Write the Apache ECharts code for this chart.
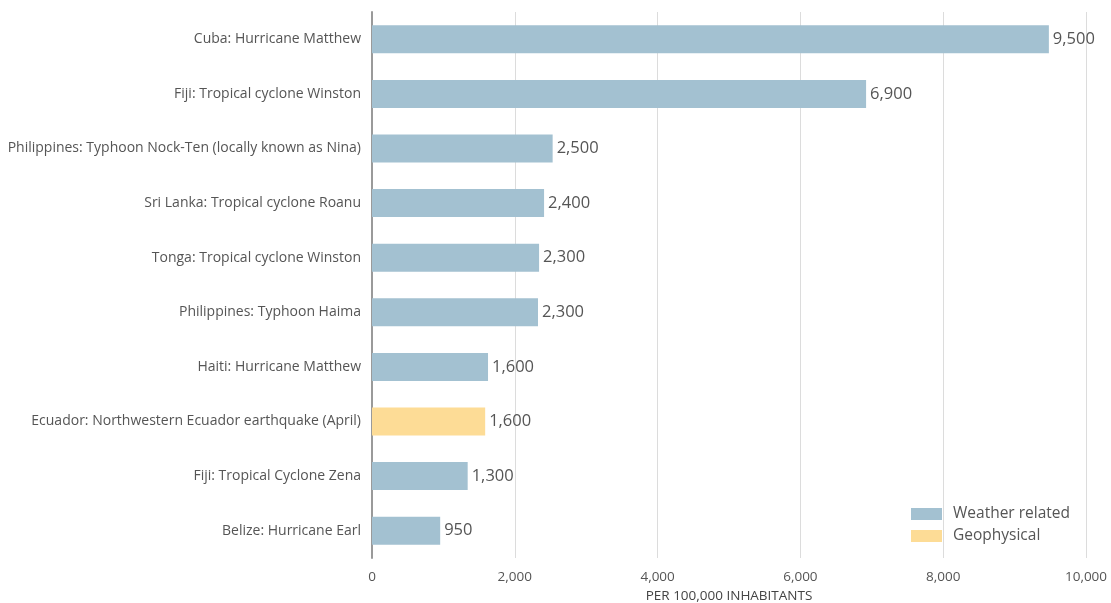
<!DOCTYPE html>
<html><head><meta charset="utf-8">
<script src="https://cdn.jsdelivr.net/npm/echarts@6/dist/echarts.min.js"></script>
<style>html,body{margin:0;padding:0;background:#fff}#c{width:1111px;height:603px}</style>
</head><body><div id="c"></div>
<script>
const categories = [
  "Cuba: Hurricane Matthew",
  "Fiji: Tropical cyclone Winston",
  "Philippines: Typhoon Nock-Ten (locally known as Nina)",
  "Sri Lanka: Tropical cyclone Roanu",
  "Tonga: Tropical cyclone Winston",
  "Philippines: Typhoon Haima",
  "Haiti: Hurricane Matthew",
  "Ecuador: Northwestern Ecuador earthquake (April)",
  "Fiji: Tropical Cyclone Zena",
  "Belize: Hurricane Earl"
];
const weatherRelated = [9480, 6920, 2530, 2410, 2340, 2325, 1625, null, 1340, 955];
const geophysical = [null, null, null, null, null, null, null, 1585, null, null];
const valueLabels = ["9,500", "6,900", "2,500", "2,400", "2,300", "2,300", "1,600", "1,600", "1,300", "950"];
const xTicks = [0, 2000, 4000, 6000, 8000, 10000];

const chart = echarts.init(document.getElementById('c'));
const font = "'Open Sans', 'Noto Sans', sans-serif";
const lbl = {
  show: true, position: 'right', distance: 4, color: '#555', fontSize: 16.5, fontFamily: font,
  formatter: p => valueLabels[p.dataIndex]
};
chart.setOption({
  animation: false,
  grid: { left: 372, right: 25, top: 12, bottom: 45, containLabel: false, outerBoundsMode: 'none' },
  legend: {
    orient: 'vertical', left: 906, top: 501, itemWidth: 31, itemHeight: 12, itemGap: 6,
    icon: 'rect',
    textStyle: { color: '#555', fontSize: 15.5, fontFamily: font, padding: [0, 0, 0, 6] },
    data: ['Weather related', 'Geophysical']
  },
  xAxis: {
    type: 'value', min: xTicks[0], max: xTicks[xTicks.length - 1], interval: 2000,
    name: 'PER 100,000 INHABITANTS', nameLocation: 'middle', nameGap: 30,
    nameTextStyle: { color: '#444', fontSize: 13.5, fontFamily: font },
    axisLine: { show: false }, axisTick: { show: false },
    axisLabel: { color: '#555', fontSize: 13.5, fontFamily: font, margin: 12,
      formatter: v => v.toLocaleString('en-US') },
    splitLine: { show: true, lineStyle: { color: '#dcdcdc', width: 1 } }
  },
  yAxis: {
    type: 'category', data: categories, inverse: true,
    axisLine: { show: true, lineStyle: { color: '#9a9a9a', width: 2 } },
    axisTick: { show: false },
    axisLabel: { color: '#555', fontSize: 14, fontFamily: font, margin: 11 }
  },
  series: [
    { name: 'Weather related', type: 'bar', stack: 'a', barWidth: 28, data: weatherRelated,
      itemStyle: { color: '#a3c1d1' }, label: lbl },
    { name: 'Geophysical', type: 'bar', stack: 'a', barWidth: 28, data: geophysical,
      itemStyle: { color: '#fddc96' }, label: lbl }
  ]
});
</script></body></html>
